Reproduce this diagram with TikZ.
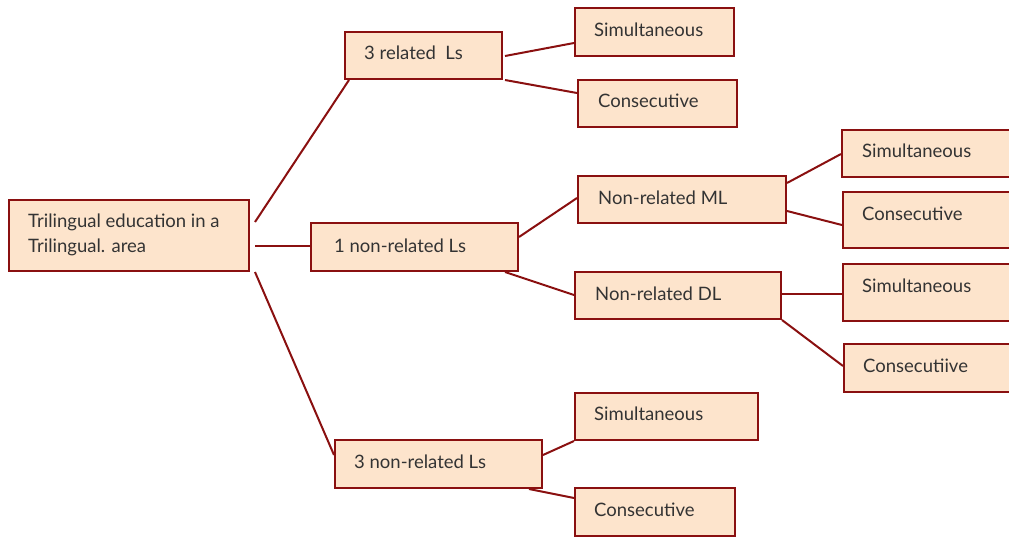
\documentclass[tikz,border=0pt]{standalone}
\usepackage{fontspec}
\setmainfont{Lato}
\definecolor{boxfill}{HTML}{FDE4CC}
\definecolor{boxline}{HTML}{8A1010}
\definecolor{txt}{HTML}{333333}
\tikzset{
  box/.style={draw=boxline, fill=boxfill, line width=2pt, rectangle, inner sep=0pt, anchor=north west},
  lbl/.style={anchor=base west, inner sep=0pt, text=txt, font=\fontsize{18.5}{25}\selectfont},
  link/.style={draw=boxline, line width=2pt}
}
\begin{document}
\begin{tikzpicture}[x=1pt, y=-1pt]
\useasboundingbox (0,0) rectangle (1009,536);
\clip (0,0) rectangle (1009,536);

% boxes: north-west corner, width, height
\node[box, minimum width=240pt, minimum height=71pt] (root) at (8,199) {};
\node[box, minimum width=157pt, minimum height=47pt] (r1) at (344,31) {};
\node[box, minimum width=207pt, minimum height=48pt] (r2) at (310,222) {};
\node[box, minimum width=207pt, minimum height=48pt] (r3) at (334,439) {};
\node[box, minimum width=159pt, minimum height=48pt] (s1) at (574,7) {};
\node[box, minimum width=159pt, minimum height=47pt] (c1) at (577,79) {};
\node[box, minimum width=208pt, minimum height=47pt] (ml) at (577,175) {};
\node[box, minimum width=206pt, minimum height=47pt] (dl) at (574,271) {};
\node[box, minimum width=180pt, minimum height=47pt] (s2) at (841,129) {};
\node[box, minimum width=180pt, minimum height=56pt] (c2) at (842,191) {};
\node[box, minimum width=180pt, minimum height=57pt] (s3) at (842,263) {};
\node[box, minimum width=180pt, minimum height=48pt] (c3) at (843,343) {};
\node[box, minimum width=183pt, minimum height=47pt] (s4) at (574,392) {};
\node[box, minimum width=160pt, minimum height=48pt] (c4) at (574,487) {};

% labels
\node[lbl] (troot1) at (28,227) {Trilingual education in a};
\node[lbl] (troot2) at (28,252) {Trilingual. area};
\node[lbl] (tr1) at (364,59) {3 related\ \ Ls};
\node[lbl] (tr2) at (334,252) {1 non-related Ls};
\node[lbl] (tr3) at (354,468) {3 non-related Ls};
\node[lbl] (ts1) at (594,36) {Simultaneous};
\node[lbl] (tc1) at (598,107) {Consecutive};
\node[lbl] (tml) at (598,204) {Non-related ML};
\node[lbl] (tdl) at (595,300) {Non-related DL};
\node[lbl] (ts2) at (862,157) {Simultaneous};
\node[lbl] (tc2) at (862,220) {Consecutive};
\node[lbl] (ts3) at (862,292) {Simultaneous};
\node[lbl] (tc3) at (863,372) {Consecutiive};
\node[lbl] (ts4) at (594,420) {Simultaneous};
\node[lbl] (tc4) at (594,516) {Consecutive};

% connectors (positive y offsets point downwards)
\draw[link] ([shift={(5,23)}]root.north east) -- ([shift={(5,0)}]r1.south west);
\draw[link] ([shift={(5,47)}]root.north east) -- ([shift={(0,24)}]r2.north west);
\draw[link] ([shift={(5,0)}]root.south east) -- ([shift={(0,16)}]r3.north west);

\draw[link] ([shift={(2,25)}]r1.north east) -- ([shift={(0,36)}]s1.north west);
\draw[link] ([shift={(2,0)}]r1.south east) -- ([shift={(0,14)}]c1.north west);

\draw[link] ([shift={(0,15)}]r2.north east) -- ([shift={(0,23)}]ml.north west);
\draw[link] ([shift={(-14,0)}]r2.south east) -- ([shift={(0,24)}]dl.north west);

\draw[link] ([shift={(0,8)}]ml.north east) -- ([shift={(0,25)}]s2.north west);
\draw[link] ([shift={(0,36)}]ml.north east) -- ([shift={(0,34)}]c2.north west);

\draw[link] ([shift={(0,23)}]dl.north east) -- ([shift={(0,31)}]s3.north west);
\draw[link] (dl.south east) -- ([shift={(0,23)}]c3.north west);

\draw[link] ([shift={(0,16)}]r3.north east) -- (s4.south west);
\draw[link] ([shift={(-14,0)}]r3.south east) -- ([shift={(0,11)}]c4.north west);
\end{tikzpicture}
\end{document}
